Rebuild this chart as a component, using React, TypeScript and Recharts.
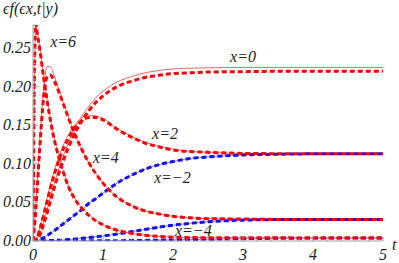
import React from 'react';
import { LineChart, Line, XAxis, YAxis, ReferenceDot } from 'recharts';

// time grid shared by every curve
const times = [0, 0.02, 0.04, 0.06, 0.1, 0.15, 0.2, 0.25, 0.3, 0.4, 0.5, 0.6, 0.7, 0.8, 0.9, 1.0, 1.2, 1.4, 1.6, 1.8, 2.0, 2.25, 2.5, 3.0, 3.5, 4.0, 4.5, 5.0];

// exact (thin solid) and approximate (thick dashed) values, x >= 0 (red)
const x0Exact = [0, 0, 0.001, 0.003, 0.01, 0.024, 0.04, 0.057, 0.073, 0.102, 0.126, 0.146, 0.162, 0.175, 0.186, 0.194, 0.206, 0.213, 0.218, 0.221, 0.223, 0.224, 0.2245, 0.225, 0.225, 0.225, 0.225, 0.225];
const x0Approx = [0, 0, 0.001, 0.002, 0.008, 0.021, 0.036, 0.052, 0.068, 0.096, 0.12, 0.14, 0.156, 0.169, 0.18, 0.188, 0.2, 0.207, 0.212, 0.215, 0.217, 0.218, 0.219, 0.2195, 0.22, 0.22, 0.22, 0.22];
const x2Exact = [0, 0, 0.002, 0.006, 0.018, 0.036, 0.055, 0.074, 0.09, 0.117, 0.137, 0.151, 0.16, 0.163, 0.162, 0.159, 0.146, 0.136, 0.128, 0.123, 0.119, 0.116, 0.115, 0.1135, 0.1132, 0.113, 0.113, 0.113];
const x2Approx = [0, 0, 0.002, 0.005, 0.016, 0.033, 0.051, 0.069, 0.085, 0.112, 0.132, 0.147, 0.156, 0.16, 0.16, 0.157, 0.145, 0.135, 0.127, 0.122, 0.118, 0.116, 0.115, 0.1135, 0.1132, 0.113, 0.113, 0.113];
const x4Exact = [0, 0.02, 0.045, 0.075, 0.135, 0.195, 0.226, 0.226, 0.215, 0.188, 0.162, 0.138, 0.118, 0.101, 0.087, 0.075, 0.057, 0.046, 0.039, 0.035, 0.032, 0.03, 0.029, 0.0285, 0.028, 0.028, 0.028, 0.028];
const x4Approx = [0, 0.018, 0.04, 0.068, 0.125, 0.185, 0.212, 0.215, 0.208, 0.186, 0.161, 0.138, 0.118, 0.101, 0.087, 0.075, 0.057, 0.046, 0.039, 0.035, 0.032, 0.03, 0.029, 0.0285, 0.028, 0.028, 0.028, 0.028];
const x6Exact = [0, 0.2, 0.279, 0.272, 0.25, 0.215, 0.185, 0.158, 0.135, 0.1, 0.073, 0.055, 0.043, 0.034, 0.027, 0.021, 0.014, 0.01, 0.0075, 0.006, 0.005, 0.0045, 0.0043, 0.0042, 0.0041, 0.004, 0.004, 0.004];
const x6Approx = [0, 0.21, 0.282, 0.27, 0.247, 0.213, 0.183, 0.156, 0.133, 0.099, 0.072, 0.054, 0.042, 0.033, 0.026, 0.021, 0.014, 0.01, 0.0075, 0.006, 0.005, 0.0045, 0.0043, 0.0042, 0.0041, 0.004, 0.004, 0.004];

// x < 0 (blue)
const xm2 = [0, 0, 0, 0.0003, 0.002, 0.004, 0.007, 0.01, 0.013, 0.02, 0.027, 0.034, 0.041, 0.049, 0.055, 0.062, 0.075, 0.085, 0.093, 0.099, 0.103, 0.107, 0.109, 0.1115, 0.1125, 0.113, 0.113, 0.113];
const xm4 = [0, 0, 0, 0, 0, 0, 0.0003, 0.0005, 0.0007, 0.001, 0.0018, 0.0025, 0.0035, 0.0045, 0.0055, 0.0065, 0.009, 0.012, 0.015, 0.018, 0.0205, 0.023, 0.025, 0.027, 0.0278, 0.028, 0.028, 0.028];
const xm6 = [0, 0, 0, 0, 0, 0, 0, 0, 0, 0, 0, 0.0001, 0.0001, 0.0002, 0.0002, 0.0003, 0.0004, 0.0006, 0.0008, 0.0011, 0.0015, 0.0019, 0.0023, 0.003, 0.0035, 0.0038, 0.004, 0.004];

const curveLabels = [
  { text: 'x=0', t: 3.0, v: 0.238 },
  { text: 'x=2', t: 1.886, v: 0.139 },
  { text: 'x=6', t: 0.43, v: 0.258 },
  { text: 'x=4', t: 1.04, v: 0.1075 },
  { text: 'x=\u22122', t: 1.99, v: 0.082 },
  { text: 'x=\u22124', t: 2.29, v: 0.013 },
];

const xTicks = Array.from({ length: 26 }, (_, i) => Math.round(i * 20) / 100);
const yTicks = Array.from({ length: 29 }, (_, i) => i / 100);

const toData = (vals: number[]) => vals.map((v, i) => ({ t: times[i], v }));

const FONT = 'Liberation Serif';
const AXIS = '#a0a0a0';
const RED = '#ff0000';
const RED_THIN = '#e86a6a';
const BLUE = '#1010ff';
const BLUE_THIN = '#8080ee';

const T = (p: any) => (
  <text fontFamily={FONT} fontStyle="italic" fontSize={16} fill="#222" {...p} />
);

const XTick = (props: any) => {
  const { x, y, payload } = props;
  const val = payload.value;
  const major = Math.abs(val - Math.round(val)) < 1e-6;
  return (
    <g>
      <line x1={x} y1={y} x2={x} y2={y - (major ? 4 : 2)} stroke={AXIS} strokeWidth={1} />
      {major && (
        <T x={x} y={y + 19} textAnchor="middle">
          {String(Math.round(val))}
        </T>
      )}
    </g>
  );
};

const YTick = (props: any) => {
  const { x, y, payload } = props;
  const val = payload.value;
  const major = Math.round(val * 100) % 5 === 0;
  return (
    <g>
      <line x1={x} y1={y} x2={x + (major ? 5 : 2.5)} y2={y} stroke={AXIS} strokeWidth={1} />
      {major && (
        <T x={x - 2} y={y + 5} textAnchor="end">
          {val.toFixed(2)}
        </T>
      )}
    </g>
  );
};

const thin = (vals: number[], color: string, key: string) => (
  <Line key={key} data={toData(vals)} dataKey="v" type="monotone" stroke={color} strokeWidth={1} dot={false} isAnimationActive={false} />
);
const dashed = (vals: number[], color: string, key: string) => (
  <Line key={key} data={toData(vals)} dataKey="v" type="monotone" stroke={color} strokeWidth={3} strokeDasharray="5 3" dot={false} isAnimationActive={false} />
);

export default function App() {
  return (
    <div style={{ position: 'absolute', left: 0, top: 0, background: '#fff' }}>
      <LineChart width={399} height={263} margin={{ top: 25, right: 16, bottom: 0, left: 0 }}>
        <XAxis
          type="number"
          dataKey="t"
          domain={[0, 5]}
          ticks={xTicks}
          interval={0}
          height={22}
          tickSize={0}
          tickMargin={0}
          tickLine={false}
          stroke={AXIS}
          tick={<XTick />}
          allowDataOverflow
          label={{
            content: (p: any) => {
              const vb = p.viewBox;
              return <T x={vb.x + vb.width + 9} y={vb.y + 9}>t</T>;
            },
          }}
        />
        <YAxis
          type="number"
          domain={[0, 0.28]}
          ticks={yTicks}
          interval={0}
          width={33}
          tickSize={0}
          tickMargin={0}
          tickLine={false}
          stroke={AXIS}
          tick={<YTick />}
          allowDataOverflow
          label={{
            content: (p: any) => {
              const vb = p.viewBox;
              return <T x={vb.x + 3} y={vb.y - 11}>ϵf(ϵx,t|y)</T>;
            },
          }}
        />
        {thin(xm2, BLUE_THIN, 'bm2')}
        {thin(xm4, BLUE_THIN, 'bm4')}
        {thin(xm6, BLUE_THIN, 'bm6')}
        {thin(x0Exact, RED_THIN, 'r0')}
        {thin(x2Exact, RED_THIN, 'r2')}
        {thin(x4Exact, RED_THIN, 'r4')}
        {thin(x6Exact, RED_THIN, 'r6')}
        {dashed(xm2, BLUE, 'dbm2')}
        {dashed(xm4, BLUE, 'dbm4')}
        {dashed(xm6, BLUE, 'dbm6')}
        {dashed(x0Approx, RED, 'd0')}
        {dashed(x2Approx, RED, 'd2')}
        {dashed(x4Approx, RED, 'd4')}
        {dashed(x6Approx, RED, 'd6')}
        {curveLabels.map((l) => (
          <ReferenceDot
            key={l.text}
            x={l.t}
            y={l.v}
            r={1}
            fill="none"
            stroke="none"
            label={{
              content: (p: any) => {
                const vb = p.viewBox;
                return (
                  <T x={vb.x + vb.width / 2} y={vb.y + vb.height / 2 + 5} textAnchor="middle">
                    {l.text}
                  </T>
                );
              },
            }}
          />
        ))}
      </LineChart>
    </div>
  );
}
